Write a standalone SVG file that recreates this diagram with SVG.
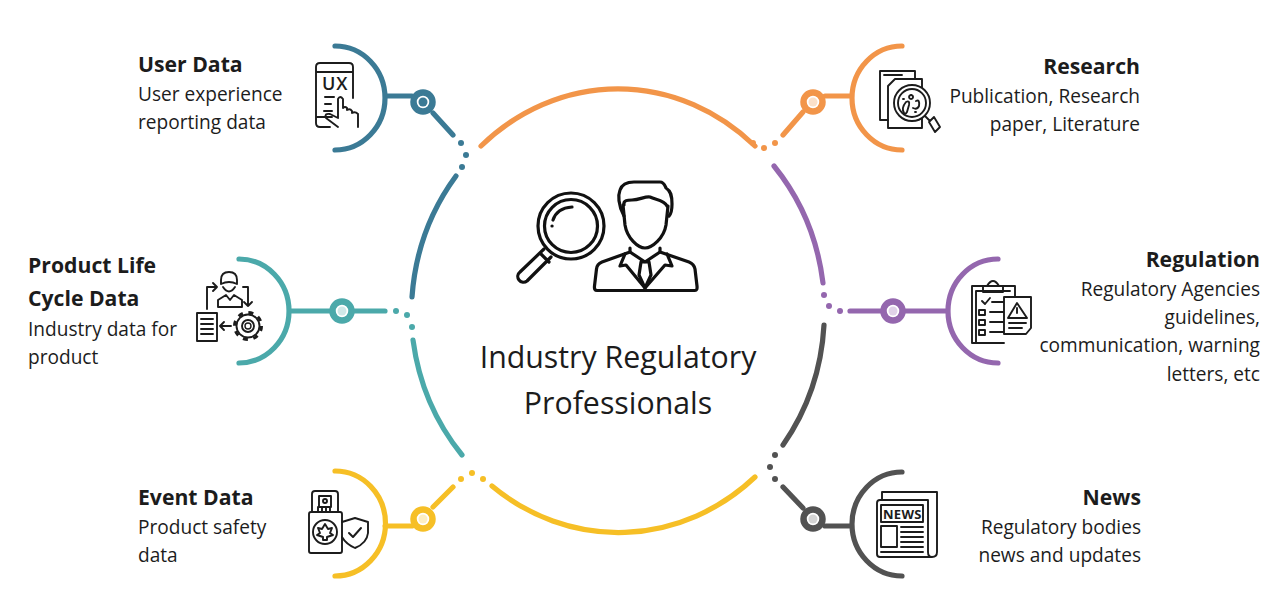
<svg xmlns="http://www.w3.org/2000/svg" width="1282" height="600" viewBox="0 0 1282 600">
<style>
text{font-family:"Open Sans","Noto Sans","DejaVu Sans",sans-serif;fill:#1c1c1c}
.h{font-size:21.2px;font-weight:700}
.b{font-size:19.1px}
.c{font-size:30.3px;text-anchor:middle}
.e{text-anchor:end}
.l{fill:none;stroke-width:5.2;stroke-linecap:round}
.k{fill:#fff;stroke-width:6.5}
.ic{fill:none;stroke:#1c1c1c;stroke-width:1.9;stroke-linecap:round;stroke-linejoin:round}
.big{fill:none;stroke:#111;stroke-width:3.2;stroke-linecap:round;stroke-linejoin:round}
.blue{stroke:#3b7a95}.blue.f{fill:#3b7a95;stroke:none}
.orange{stroke:#f29549}.orange.f{fill:#f29549;stroke:none}
.teal{stroke:#4ba9aa}.teal.f{fill:#4ba9aa;stroke:none}
.purple{stroke:#9467ae}.purple.f{fill:#9467ae;stroke:none}
.dark{stroke:#525252}.dark.f{fill:#525252;stroke:none}
.yellow{stroke:#f6bf26}.yellow.f{fill:#f6bf26;stroke:none}
</style>
<rect width="1282" height="600" fill="#fff"/>
<g id="connectors">
<g class="blue l"><path d="M456 176A208 223 0 0 0 412 297"/><path d="M335 46A50 52 0 0 1 335 150M385 96H412M433 113L453 135"/></g>
<g class="orange l"><path d="M481 146A208 231 0 0 1 755 146"/><path d="M902 46A50 52 0 0 0 902 150M852 96H825M803 112L783 135"/></g>
<g class="purple l"><path d="M774 166A208 223 0 0 1 823 283"/><path d="M998 259A50 52 0 0 0 998 363M948 311H850"/></g>
<g class="dark l"><path d="M824 325A208 223 0 0 1 783 445"/><path d="M902 472A50 52 0 0 0 902 576M852 526H825M803 508L783 487"/></g>
<g class="yellow l"><path d="M755 477A208 226 0 0 1 492 486"/><path d="M335 471A50 52 0 0 1 335 576M385 526H412M433 507L453 487"/></g>
<g class="teal l"><path d="M462 455A208 223 0 0 1 413 340"/><path d="M239 259A50 52 0 0 1 239 363M289 311H385"/></g>
<g class="blue f"><circle cx="461" cy="143" r="3"/><circle cx="466" cy="155" r="3"/><circle cx="462" cy="167" r="3"/></g>
<g class="orange f"><circle cx="775" cy="143" r="3"/><circle cx="764" cy="148" r="3"/><circle cx="753" cy="143" r="3"/></g>
<g class="purple f"><circle cx="840" cy="311" r="3"/><circle cx="829" cy="306" r="3"/><circle cx="824" cy="295" r="3"/></g>
<g class="dark f"><circle cx="775" cy="479" r="3"/><circle cx="770" cy="467" r="3"/><circle cx="775" cy="455" r="3"/></g>
<g class="yellow f"><circle cx="461" cy="479" r="3"/><circle cx="472" cy="473" r="3"/><circle cx="483" cy="479" r="3"/></g>
<g class="teal f"><circle cx="396" cy="311" r="3"/><circle cx="407" cy="315" r="3"/><circle cx="412" cy="327" r="3"/></g>
<circle class="k blue" cx="423" cy="102" r="9.5"/><circle class="blue f" cx="423" cy="102" r="4.5"/>
<circle class="k orange" cx="813" cy="102" r="9.5"/><circle cx="813" cy="102" r="4.5" fill="#fbe0c9"/>
<circle class="k purple" cx="893" cy="311" r="9.5"/><circle cx="893" cy="311" r="4.5" fill="#e0d2e8"/>
<circle class="k dark" cx="813" cy="519" r="9.5"/><circle cx="813" cy="519" r="4.5" fill="#d4d4d4"/>
<circle class="k yellow" cx="423" cy="519" r="9.5"/><circle cx="423" cy="519" r="4.5" fill="#fdeec2"/>
<circle class="k teal" cx="342" cy="311" r="9.5"/><circle cx="342" cy="311" r="4.5" fill="#cfe8e8"/>
</g>
<g id="center">
<g class="big">
<circle cx="571" cy="226" r="33"/><circle cx="571" cy="226" r="26.5"/>
<path d="M553 220Q557 208 572 207"/><path d="M552 226h.1"/>
<path d="M544 249L520 272A4 4 0 0 0 527 281L551 257M540 253L549 262"/>
<path d="M624 216C618 205 618 195 620 190C622 184 628 182 634 182H660C664 182 665 186 666 188C671 191 672 196 672 204C672 210 671 214 669 216"/>
<path d="M624 205C623 200 628 200 632 200C640 200 645 196 650 197C656 200 664 200 667 206"/>
<path d="M623 205L625 225C627 238 638 248 645 248C652 248 664 238 666 225L668 206"/>
<path d="M630 248V252L602 262Q597 264 596.500 269L594.500 286Q594 290.500 597 290.500H695Q697.500 290.500 697 286L695 269Q694 264 689 262L660 252V248"/>
<path d="M625 254L620 266L626 265L645 288L665 265L672 266L667 254"/>
<path d="M630 252L645 262L660 252M641 262H649L651 275L645 288L639 275Z"/>
</g>
<text class="c" x="618" y="368">Industry Regulatory</text>
<text class="c" x="618" y="414">Professionals</text>
</g>
<g id="user-data">
<text class="h" x="138" y="72">User Data</text>
<text class="b" x="138" y="101">User experience</text>
<text class="b" x="138" y="129">reporting data</text>
<g class="ic"><path d="M330 127H320Q316 127 316 123V67Q316 63 320 63H349Q353 63 353 67V98M316 72H353M316 117H332"/><path d="M325 97H334M325 104H331M324 111H332" stroke-width="2"/><path d="M338 127L326 118Q324 113 330 114L338 118V99Q340 95 343 99V108Q345 106 347 108V110Q350 108 352 111V113Q355 111 358 114V127"/></g>
<text x="322" y="90" font-size="18" font-weight="600" style="letter-spacing:1px">UX</text>
</g>
<g id="research">
<text class="h e" x="1140" y="74">Research</text>
<text class="b e" x="1140" y="103">Publication, Research</text>
<text class="b e" x="1140" y="131">paper, Literature</text>
<g class="ic"><path d="M888 120H880V71H915V79"/><path d="M884 75H902"/><path d="M895 79H922V128H888V86Z"/><circle cx="912" cy="103" r="18" fill="#fff"/><circle cx="912" cy="103" r="14"/><path d="M904 113Q901 108 906 102Q910 100 909 105L907 112Q905 115 904 113ZM916 101Q920 99 919 106Q917 110 913 108M911 95a2 2 0 1 0 .1 0M903 99h1M915 112h1"/><path d="M925 116L930 121M929 122L934 117L940 127L935 132Z"/></g>
</g>
<g id="product-life-cycle">
<text class="h" x="28" y="273">Product Life</text>
<text class="h" x="28" y="306">Cycle Data</text>
<text class="b" x="28" y="336">Industry data for</text>
<text class="b" x="28" y="364">product</text>
<g class="ic"><path d="M221 284V280Q221 272 229 272Q237 272 237 280V284M221 284Q229 280 237 284M223 287Q229 296 235 287"/><path d="M218 307V300L226 295L230 300L234 295L242 300V307Z"/><path d="M207 309V287H217M213 283L217 287L213 291"/><path d="M243 287H248V306M244 302L248 306L252 302"/><rect x="197" y="313" width="20" height="28"/><path d="M201 319H213M201 324H213M201 329H213M201 334H213"/><circle cx="248" cy="326" r="13.500" stroke-dasharray="5 5.600" stroke-width="3" stroke-linecap="butt"/><circle cx="248" cy="326" r="11.500"/><circle cx="248" cy="326" r="6"/><circle cx="248" cy="326" r="3" stroke-width="1.400"/><path d="M231 326H220M224 322L220 326L224 330"/></g>
</g>
<g id="regulation">
<text class="h e" x="1260" y="267">Regulation</text>
<text class="b e" x="1260" y="296">Regulatory Agencies</text>
<text class="b e" x="1260" y="324">guidelines,</text>
<text class="b e" x="1260" y="352">communication, warning</text>
<text class="b e" x="1260" y="381">letters, etc</text>
<g class="ic"><path d="M1004 343H972V286H1015V297"/><path d="M976 343V291H1010"/><path d="M983 292V286H987Q993 276 999 286H1003V292Z"/><path d="M982 301L985 304L990 298M979 310h6v5h-6zM979 320h6v5h-6zM979 330h6v5h-6zM992 302H1004M990 312H1004M990 322H1004M990 332H1004"/><path d="M1004 297H1031V328L1026 334H1004Z" fill="#fff"/><path d="M1017 303L1027 318H1008ZM1017 308V313M1009 323H1026M1009 328H1022"/></g>
</g>
<g id="event-data">
<text class="h" x="138" y="505">Event Data</text>
<text class="b" x="138" y="534">Product safety</text>
<text class="b" x="138" y="562">data</text>
<g class="ic"><path d="M312 512V494Q312 491 315 491H335Q338 491 338 494V512"/><rect x="319" y="496" width="12" height="11"/><circle cx="325" cy="501" r="2"/><path d="M318 507V512M322 507V512M326 507V512M330 507V512"/><rect x="309" y="512" width="33" height="41" rx="2"/><circle cx="325" cy="532" r="12"/><path d="M325 524L328 529L332 528L330 533L333 535L327 537V540H323V537L317 535L320 533L318 528L322 529Z"/><path d="M342 522L355 518L368 522V533Q367 543 355 548Q346 544 342 537"/><path d="M349 533L353 537L361 528" stroke-width="2"/></g>
</g>
<g id="news">
<text class="h e" x="1141" y="505">News</text>
<text class="b e" x="1141" y="534">Regulatory bodies</text>
<text class="b e" x="1141" y="562">news and updates</text>
<g class="ic"><path d="M882 500V492H937V552Q937 557 932 557H880Q877 557 877 554V503Q877 500 880 500H928V552Q928 557 932 557"/><rect x="881" y="505" width="42" height="17"/><rect x="881" y="526" width="16" height="21"/><path d="M901 527H923M901 532H923M901 537H923M901 542H923M901 547H923M881 552H923"/></g>
<text x="883" y="519" font-size="13" font-weight="700" style="letter-spacing:.3px">NEWS</text>
</g>
</svg>
